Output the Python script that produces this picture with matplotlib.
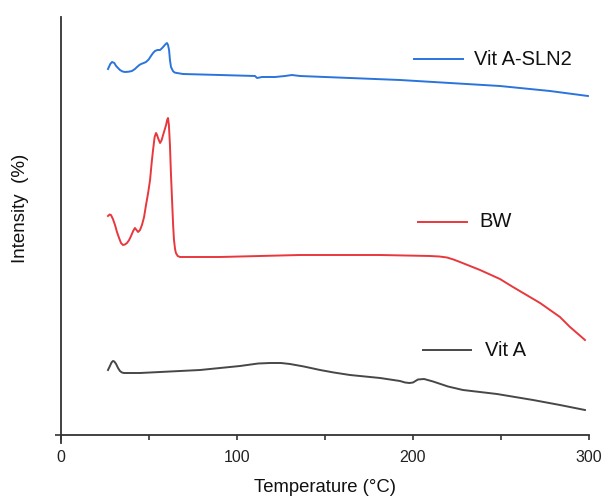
import matplotlib
matplotlib.use("Agg")
import matplotlib.pyplot as plt
from matplotlib.ticker import MultipleLocator

plt.rcParams['font.family'] = ['Liberation Sans', 'DejaVu Sans']

# Vit A-SLN2 (blue)
t_sln = [26.7, 28.0, 29.0, 30.3, 31.3, 33.5, 35.0, 36.4, 38.5, 40.3, 42.0, 43.2, 44.5, 45.5,
         47.0, 48.3, 49.8, 51.1, 52.3, 53.4, 54.8, 56.3, 57.5, 58.5, 59.5, 60.2, 60.8, 61.4,
         61.9, 62.5, 63.6, 64.5, 65.9, 69.3, 90.3, 110.2, 111.4, 114.2, 121.6, 127.3, 131.2,
         135.8, 164.2, 192.6, 221.0, 249.4, 277.8, 299.4]
y_sln = [366, 371, 373, 372, 369, 365, 363.5, 363, 363.3, 364, 366, 368, 370, 371,
         372, 373, 375.5, 379, 382, 384, 385, 385, 387, 389, 391, 392, 390, 385,
         375, 368, 364, 362.5, 362, 361, 360, 359, 357, 358, 358, 359, 360,
         359, 357, 355, 352, 349, 344, 339]

# BW (red)
t_bw = [26.7, 27.6, 28.4, 29.5, 30.7, 31.8, 33.0, 34.1, 35.2, 36.3, 37.5, 38.7, 39.8, 41.0,
        42.0, 42.9, 43.8, 44.9, 46.0, 47.2, 48.3, 49.5, 50.6, 51.5, 52.3, 53.2, 54.0, 54.6,
        55.1, 56.3, 57.2, 58.0, 59.7, 60.3, 60.8, 61.3, 61.9, 62.5, 63.1, 63.7, 64.2, 64.8,
        65.3, 66.3, 67.6, 90.3, 135.8, 181.3, 209.7, 215.0, 219.3, 223.0, 226.7, 238.1,
        249.4, 256.8, 272.2, 283.5, 289.2, 293.8, 297.7]
y_bw = [219, 220.5, 220, 216, 210, 203, 197, 192, 190, 190.5, 192, 195, 199, 204,
        207, 205, 203, 205, 210, 218, 230, 242, 255, 272, 285, 298, 302, 300,
        297, 292, 295, 300, 310, 315, 317, 310, 290, 260, 235, 210, 195, 186,
        182, 179, 178, 178, 180, 180, 179, 178.5, 177.5, 175.5, 173, 165,
        156, 148, 132, 118, 108, 101, 95]

# Vit A (dark grey)
t_va = [26.7, 27.8, 28.7, 29.5, 30.3, 31.3, 32.4, 33.5, 34.6, 35.8, 44.9, 56.3, 79.0, 101.7,
        112.0, 118.8, 125.0, 130.1, 138.0, 147.2, 155.0, 164.2, 181.3, 192.6, 195.5, 198.0,
        200.0, 202.8, 206.3, 211.4, 219.9, 228.4, 247.7, 268.2, 283.5, 297.7]
y_va = [65, 69, 72.5, 74, 73.5, 71, 67, 64, 62.5, 62, 62, 63, 65, 69,
        71.5, 72, 72, 71, 68.5, 65, 62.5, 60, 57, 54, 52.5, 52,
        52.5, 55.5, 56, 53.5, 48.5, 45, 41, 35, 30, 25]

labels = ["Vit A-SLN2", "BW", "Vit A"]
colors = ["#2a74dc", "#e8383d", "#474747"]
x_ticks = [0, 100, 200, 300]

fig = plt.figure(figsize=(6.05, 5.0), dpi=100)
ax = fig.add_axes([61/605, 57/500, 528/605, 426/500])

series = [(t_sln, y_sln), (t_bw, y_bw), (t_va, y_va)]
for (t, y), c in zip(series, colors):
    ax.plot(t, y, color=c, lw=1.4, solid_joinstyle='round')

ax.set_xlim(0, 300)
ax.set_ylim(-8, 418)
ax.spines['top'].set_visible(False)
ax.spines['right'].set_visible(False)
ax.spines['bottom'].set_position(('data', 0))
for s in ('left', 'bottom'):
    ax.spines[s].set_linewidth(1.3)
    ax.spines[s].set_color('#333333')

ax.set_xticks(x_ticks)
ax.xaxis.set_minor_locator(MultipleLocator(50))
ax.tick_params(axis='x', which='both', direction='out', length=3.5, width=1.2,
               colors='#333333', labelsize=11.5, pad=7, labelcolor='#222222')
ax.set_yticks([0])
ax.set_yticklabels([])
ax.tick_params(axis='y', direction='out', length=4.5, width=1.2, colors='#333333')

fig.text(325/605, 1 - 488/500, "Temperature (°C)", ha='center', va='center',
         fontsize=13.3, color='#111111')
fig.text(21/605, 1 - 208/500, "Intensity  (%)", ha='center', va='center',
         rotation=90, fontsize=13.5, color='#111111')

leg = [((0.669, 0.761), 0.901, 0.783),
       ((0.676, 0.769), 0.519, 0.793),
       ((0.686, 0.776), 0.218, 0.803)]
for (xs, yv, tx), lab, c in zip(leg, labels, colors):
    ax.plot(xs, [yv, yv], color=c, lw=1.4, transform=ax.transAxes, clip_on=False)
    ax.text(tx, yv, lab, transform=ax.transAxes, va='center', ha='left',
            fontsize=14.5, color='#111111')

fig.savefig("out.png", dpi=100)
